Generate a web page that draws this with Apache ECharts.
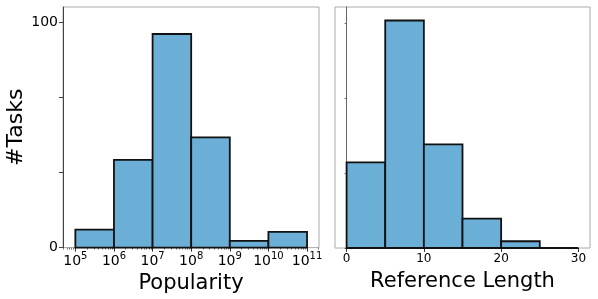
<!DOCTYPE html>
<html><head><meta charset="utf-8">
<script src="https://cdn.jsdelivr.net/npm/echarts@6/dist/echarts.min.js"></script>
<style>html,body{margin:0;padding:0;background:#fff}#c{width:598px;height:299px}</style>
</head><body><div id="c"></div>
<script>
// Popularity histogram: bin edges in log10 units
var popEdges = [5, 6, 7, 8, 9, 10, 11];
var popCounts = [8, 39, 95, 49, 3, 7];
// Reference length histogram
var lenEdges = [0, 5, 10, 15, 20, 25, 30];
var lenCounts = [38, 101, 46, 13, 3, 0];
var popTicks = [5, 6, 7, 8, 9, 10, 11];
var lenTicks = [0, 10, 20, 30];
var yTicks = [0, 100/3, 200/3, 100];
var yLabels = [0, 100];

function bins(edges, counts) {
  var d = [];
  for (var i = 0; i < counts.length; i++) d.push([edges[i], edges[i+1], counts[i]]);
  return d;
}
var minor = [];
for (var n = 4; n <= 11; n++) for (var k = 2; k <= 9; k++) {
  var v = n + Math.log10(k);
  if (v > 4.68 && v < 11.31) minor.push(v);
}
function renderBar(params, api) {
  var p0 = api.coord([api.value(0), api.value(2)]);
  var p1 = api.coord([api.value(1), 0]);
  return {
    type: 'rect',
    shape: {x: p0[0], y: p0[1], width: p1[0] - p0[0], height: p1[1] - p0[1]},
    style: {fill: '#6baed6', stroke: '#111', lineWidth: 1.8}
  };
}
var font = 'DejaVu Sans';
var chart = echarts.init(document.getElementById('c'), null, {renderer: 'canvas'});
var ymax = 107;
chart.setOption({
  animation: false,
  grid: [
    {left: 63, right: 279, top: 7, bottom: 51, show: true, borderColor: '#aaa', borderWidth: 1},
    {left: 335, right: 8, top: 7, bottom: 51, show: true, borderColor: '#aaa', borderWidth: 1}
  ],
  xAxis: [
    {type: 'value', gridIndex: 0, min: 4.68, max: 11.31, position: 'bottom',
     name: 'Popularity', nameLocation: 'middle', nameGap: 23,
     nameTextStyle: {fontFamily: font, fontSize: 21, color: '#000'},
     axisLine: {show: false}, splitLine: {show: false},
     axisTick: {customValues: popTicks, length: 4, lineStyle: {color: '#333'}},
     axisLabel: {customValues: popTicks, margin: 4,
       formatter: function (v) { return '{b|10}{s|' + Math.round(v) + '}'; },
       rich: {b: {fontFamily: font, fontSize: 14, color: '#000'},
              s: {fontFamily: font, fontSize: 10, color: '#000', padding: [0, 0, 9, 0]}}}
    },
    {type: 'value', gridIndex: 0, min: 4.68, max: 11.31, position: 'bottom',
     axisLine: {show: false}, splitLine: {show: false}, axisLabel: {show: false},
     axisTick: {customValues: minor, length: 2, lineStyle: {color: '#555', width: 0.8}}
    },
    {type: 'value', gridIndex: 1, min: -1.5, max: 31.5, position: 'bottom',
     name: 'Reference Length', nameLocation: 'middle', nameGap: 23,
     nameTextStyle: {fontFamily: font, fontSize: 21, color: '#000'},
     axisLine: {show: false}, splitLine: {show: false},
     axisTick: {customValues: lenTicks, length: 4, lineStyle: {color: '#333'}},
     axisLabel: {customValues: lenTicks, margin: 5, fontFamily: font, fontSize: 12, color: '#000'}
    }
  ],
  yAxis: [
    {type: 'value', gridIndex: 0, min: 0, max: ymax,
     name: '#Tasks', nameLocation: 'middle', nameGap: 34, nameRotate: 90,
     nameTextStyle: {fontFamily: font, fontSize: 22, color: '#000'},
     axisLine: {show: true, lineStyle: {color: '#444', width: 1}}, splitLine: {show: false},
     axisTick: {customValues: yTicks, length: 4, lineStyle: {color: '#444'}},
     axisLabel: {customValues: yLabels, margin: 5, fontFamily: font, fontSize: 14, color: '#000'}
    },
    {type: 'value', gridIndex: 1, min: 0, max: ymax,
     axisLine: {show: true, lineStyle: {color: '#666', width: 1}}, splitLine: {show: false},
     axisTick: {customValues: yTicks, length: 2, lineStyle: {color: '#666'}},
     axisLabel: {show: false}
    }
  ],
  series: [
    {type: 'custom', xAxisIndex: 0, yAxisIndex: 0, renderItem: renderBar,
     encode: {x: [0, 1], y: 2}, data: bins(popEdges, popCounts), clip: false},
    {type: 'custom', xAxisIndex: 2, yAxisIndex: 1, renderItem: renderBar,
     encode: {x: [0, 1], y: 2}, data: bins(lenEdges, lenCounts), clip: false}
  ]
});
</script></body></html>
